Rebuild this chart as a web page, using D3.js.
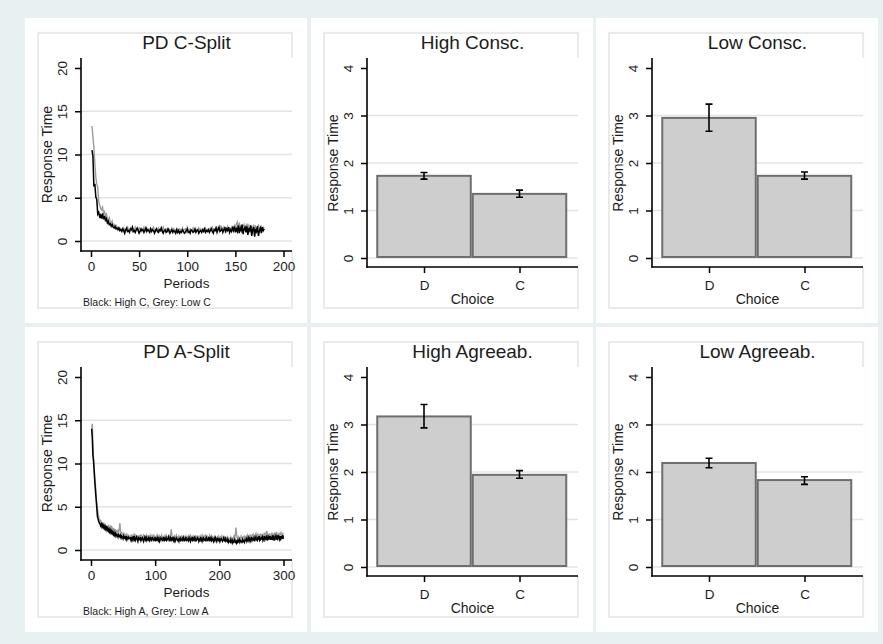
<!DOCTYPE html>
<html>
<head>
<meta charset="utf-8">
<script src="https://cdn.jsdelivr.net/npm/d3@7"></script>
<style>
  html, body { margin: 0; padding: 0; background: #e8f0f2; }
  svg { display: block; font-family: "Liberation Sans", Arial, sans-serif; }
</style>
</head>
<body>
<svg id="chart" width="883" height="644"></svg>
<script>
// ---- Response time by period, PD conscientiousness split (periods 1..180)
const periodsC = d3.range(1, 181);
const highC = [10.5,9.8,6.3,6.6,5.1,4.8,3.1,3.3,2.8,3.0,2.6,3.2,2.5,2.9,2.4,2.6,2.1,2.3,1.9,2.0,1.7,1.9,1.6,1.5,1.7,1.4,1.5,1.3,1.5,1.2,
1.3,1.1,1.4,1.2,0.9,1.3,1.5,1.1,1.2,1.0,1.4,1.3,1.6,1.1,1.2,1.0,1.3,1.5,1.2,0.9,1.1,1.4,1.2,1.3,1.0,1.2,1.5,1.1,1.3,1.2,
1.0,1.4,1.1,1.3,1.2,0.9,1.2,1.4,1.1,1.0,1.3,1.2,1.5,1.1,0.9,1.2,1.3,1.0,1.1,1.4,1.2,0.9,1.1,1.3,1.0,1.2,1.1,0.9,1.3,1.0,
1.2,0.9,1.1,1.0,1.3,1.1,0.9,1.0,1.2,1.4,1.0,1.1,0.9,1.3,1.2,1.0,1.1,1.4,1.0,1.2,1.3,0.9,1.1,1.2,1.0,1.3,1.1,1.4,1.0,1.2,
1.1,1.3,1.0,1.2,1.4,1.1,0.9,1.3,1.2,1.5,1.0,1.3,1.6,1.1,1.2,1.4,1.0,1.3,1.5,1.1,1.4,1.2,1.6,1.0,1.3,1.1,1.5,1.2,1.7,1.0,
1.4,1.1,1.8,0.9,1.5,1.2,1.9,0.8,1.4,1.6,1.0,1.7,0.7,1.5,1.2,1.8,0.6,1.3,1.6,0.5,1.4,1.1,1.7,0.6,1.2,1.5,0.9,1.6,1.2,1.4];
const lowC = [13.3,12.1,10.8,8.9,7.4,6.6,6.2,4.6,4.1,3.8,3.6,3.9,3.2,3.4,2.9,3.1,2.6,2.4,2.7,2.2,2.0,2.3,1.8,1.9,1.6,1.8,1.5,1.6,1.4,1.5,
1.4,1.3,1.2,1.5,1.3,1.1,1.4,1.6,1.3,1.2,1.5,1.3,1.1,1.4,1.2,1.6,1.3,1.4,1.2,1.5,1.3,1.1,1.4,1.3,1.6,1.2,1.3,1.5,1.2,1.4,
1.3,1.5,1.2,1.4,1.6,1.3,1.2,1.4,1.3,1.5,1.1,1.3,1.4,1.2,1.6,1.3,1.2,1.4,1.3,1.1,1.4,1.2,1.3,1.5,1.2,1.4,1.1,1.3,1.2,1.4,
1.2,1.4,1.3,1.1,1.5,1.2,1.3,1.4,1.1,1.6,1.3,1.2,1.4,1.3,1.2,1.5,1.1,1.3,1.4,1.2,1.3,1.5,1.2,1.4,1.1,1.3,1.4,1.2,1.5,1.3,
1.3,1.4,1.2,1.5,1.3,1.6,1.2,1.4,1.3,1.7,1.2,1.5,1.4,1.3,1.8,1.4,1.3,1.6,1.2,1.5,1.4,1.7,1.3,1.5,1.4,1.6,1.3,1.5,1.8,1.4,
1.9,2.2,1.7,2.0,1.6,1.8,1.5,1.7,1.9,1.4,1.6,2.0,1.5,1.8,1.3,1.7,1.6,1.4,1.9,1.5,1.7,1.3,1.6,1.8,1.4,1.5,1.7,1.3,1.6,1.5];

// ---- Response time by period, PD agreeableness split (periods 1..300)
const periodsA = d3.range(1, 301);
const highA = [14.0,13.0,11.0,10.2,9.0,7.8,6.8,5.9,4.9,3.9,3.6,3.3,3.1,3.0,2.8,3.0,2.7,2.9,2.6,2.8,2.5,2.7,2.4,2.6,2.3,2.5,2.2,2.4,2.1,2.3,
2.0,2.2,1.9,2.1,1.8,2.0,1.7,1.9,1.6,1.8,1.7,1.5,1.9,1.6,1.5,1.7,1.4,1.6,1.5,1.3,1.6,1.4,1.5,1.3,1.6,1.2,1.4,1.5,1.3,1.4,
1.4,1.2,1.5,1.1,1.3,1.6,1.2,1.4,1.1,1.3,1.5,1.2,1.0,1.4,1.3,1.2,1.5,1.1,1.3,1.4,1.2,1.0,1.3,1.5,1.2,1.4,1.1,1.3,1.2,1.4,
1.1,1.3,1.5,1.0,1.2,1.4,1.3,1.1,1.2,1.5,1.0,1.3,1.2,1.4,1.1,1.3,1.0,1.2,1.4,1.3,1.1,1.2,1.5,1.0,1.3,1.2,1.4,1.1,1.2,1.3,
1.5,1.1,1.2,1.4,1.0,1.3,1.2,1.5,1.1,1.3,1.0,1.2,1.4,1.3,1.1,1.2,1.0,1.3,1.4,1.1,1.2,1.3,1.0,1.4,1.2,1.1,1.3,1.5,1.0,1.2,
1.3,1.1,1.4,1.2,1.0,1.3,1.2,1.5,1.1,1.2,1.4,1.0,1.3,1.1,1.2,1.4,1.3,1.0,1.2,1.1,1.5,1.2,1.0,1.3,1.4,1.1,1.2,1.3,1.0,1.4,
1.2,1.1,1.3,1.5,1.0,1.2,1.4,1.1,1.3,1.2,1.0,1.3,1.1,1.4,1.2,1.0,1.3,1.2,1.1,1.4,1.0,1.2,1.3,1.1,1.0,1.2,1.4,1.1,1.0,1.3,
1.1,1.0,1.2,0.9,1.1,1.0,0.9,1.2,1.0,0.8,1.1,0.9,1.0,1.2,0.9,1.0,0.8,1.1,0.9,1.0,1.2,0.9,1.1,1.0,0.9,1.2,1.0,1.1,0.9,1.2,
1.1,1.3,1.0,1.2,1.4,1.1,1.3,1.0,1.2,1.5,1.1,1.3,1.2,1.4,1.0,1.3,1.5,1.2,1.1,1.4,1.3,1.6,1.1,1.2,1.4,1.3,1.5,1.1,1.3,1.6,
1.2,1.4,1.3,1.7,1.1,1.3,1.5,1.2,1.6,1.3,1.4,1.2,1.7,1.3,1.5,1.1,1.4,1.6,1.2,1.5,1.3,1.7,1.4,1.2,1.6,1.3,1.5,1.4,1.7,1.3];
const lowA = [13.8,14.6,12.0,10.5,9.6,8.2,7.5,6.0,5.4,4.8,4.2,3.9,3.4,3.2,3.5,3.0,2.9,3.2,2.8,3.0,2.6,2.9,2.7,2.5,2.8,2.4,2.9,2.6,2.3,2.7,
2.5,2.8,2.3,2.6,2.2,2.5,2.1,2.4,2.0,2.3,1.9,2.2,2.0,2.4,3.1,2.2,1.9,2.0,1.8,1.7,1.9,1.6,1.8,1.7,1.5,1.8,1.6,1.7,1.5,1.6,
1.6,1.4,1.8,1.5,1.3,1.7,1.5,1.9,1.4,1.6,1.5,1.3,1.7,1.4,1.6,1.5,1.8,1.4,1.6,1.3,1.5,1.7,1.4,1.6,1.5,1.3,1.7,1.5,1.4,1.6,
1.5,1.7,1.4,1.6,1.3,1.5,1.8,1.4,1.6,1.5,1.3,1.6,1.4,1.7,1.5,1.3,1.6,1.4,1.5,1.7,1.3,1.5,1.4,1.6,1.3,1.5,1.7,1.4,1.5,1.3,
1.6,1.4,1.5,1.8,2.4,1.7,1.4,1.5,1.3,1.6,1.4,1.5,1.7,1.3,1.5,1.4,1.6,1.3,1.5,1.4,1.6,1.5,1.3,1.7,1.4,1.5,1.3,1.6,1.4,1.5,
1.4,1.6,1.3,1.5,1.7,1.4,1.5,1.3,1.6,1.4,1.5,1.3,1.6,1.5,1.4,1.7,1.3,1.5,1.4,1.6,1.3,1.5,1.7,1.4,1.6,1.5,1.3,1.8,1.5,1.4,
1.6,1.4,1.5,1.3,1.7,1.5,1.4,1.6,1.3,1.5,1.4,1.3,1.6,1.5,1.4,1.3,1.5,1.4,1.6,1.3,1.4,1.5,1.3,1.6,1.4,1.3,1.5,1.4,1.3,1.5,
1.4,1.3,1.5,1.2,1.4,1.3,1.2,1.5,1.3,1.2,1.4,1.3,1.6,1.4,1.8,2.6,1.7,1.4,1.3,1.5,1.2,1.4,1.3,1.6,1.4,1.3,1.5,1.4,1.6,1.5,
1.4,1.6,1.5,1.7,1.4,1.6,1.5,1.8,1.4,1.6,1.7,1.5,1.8,1.6,1.4,1.7,1.9,1.5,1.6,1.8,1.5,1.7,1.6,1.9,1.5,1.7,1.6,1.8,1.5,1.7,
1.9,1.6,1.8,2.2,1.7,1.6,1.9,1.5,1.8,1.7,1.6,2.0,1.7,1.8,1.6,1.9,1.7,1.8,2.1,1.6,1.8,1.7,1.9,1.6,1.8,2.0,1.7,1.6,1.9,1.8];

// ---- Mean response time by choice, with confidence bounds
const choices = ["D", "C"];
const highConsc    = [1.73, 1.35];
const highConscLo  = [1.66, 1.28];
const highConscHi  = [1.80, 1.43];
const lowConsc     = [2.95, 1.73];
const lowConscLo   = [2.67, 1.66];
const lowConscHi   = [3.24, 1.81];
const highAgree    = [3.17, 1.94];
const highAgreeLo  = [2.93, 1.87];
const highAgreeHi  = [3.42, 2.03];
const lowAgree     = [2.19, 1.83];
const lowAgreeLo   = [2.09, 1.74];
const lowAgreeHi   = [2.29, 1.90];

// ---- Tick values
const tsYTicks  = [0, 5, 10, 15, 20];
const barYTicks = [0, 1, 2, 3, 4];
const cXTicks   = [0, 50, 100, 150, 200];
const aXTicks   = [0, 100, 200, 300];

// ---- Layout
const svg = d3.select("#chart");
svg.append("rect").attr("width", 883).attr("height", 644).attr("fill", "#e8f0f2");

const colX = [25, 311, 596], rowY = [18, 327];
const PW = 282, PH = 305;
const AX = 56, PR = 267, PT = 40, TT = 50;   // y-axis x, plot right, plot top, top tick
const TXT = "#1c1c1c";

function panelFrame(g, title, axisY) {
  g.append("rect").attr("width", PW).attr("height", PH).attr("fill", "#fff");
  g.append("rect").attr("x", 13).attr("y", 15).attr("width", 254).attr("height", 275)
    .attr("fill", "none").attr("stroke", "#e4e4e4").attr("stroke-width", 1.5);
  g.append("rect").attr("x", AX).attr("y", PT).attr("width", PR - AX + 1.5).attr("height", axisY - PT)
    .attr("fill", "#fff");
  g.append("text").attr("x", (AX + PR) / 2).attr("y", 31).attr("text-anchor", "middle")
    .attr("font-size", 19).attr("fill", TXT).text(title);
}

function yAxis(g, y, ticks, axisY) {
  // gridlines (all but the top tick)
  g.append("g").selectAll("line").data(ticks.slice(0, -1)).join("line")
    .attr("x1", AX).attr("x2", PR).attr("y1", d => y(d)).attr("y2", d => y(d))
    .attr("stroke", "#e4e4e4").attr("stroke-width", 1.4);
  const ax = g.append("g").attr("transform", `translate(${AX},0)`)
    .call(d3.axisLeft(y).tickValues(ticks).tickSize(6).tickSizeOuter(0).tickFormat(d3.format("d")));
  ax.select(".domain").remove();
  ax.selectAll(".tick line").attr("stroke", "#000").attr("stroke-width", 1.5);
  ax.selectAll(".tick text")
    .attr("transform", "rotate(-90)").attr("x", 0).attr("y", -14).attr("dy", 0)
    .attr("text-anchor", "middle").attr("font-size", 13.5).attr("fill", TXT)
    .attr("font-family", "Liberation Sans, Arial, sans-serif");
  g.append("line").attr("x1", AX).attr("x2", AX).attr("y1", PT).attr("y2", axisY + 0.75)
    .attr("stroke", "#000").attr("stroke-width", 1.6);
  const mid = (y(ticks[0]) + y(ticks[ticks.length - 1])) / 2;
  g.append("text").attr("transform", `translate(${AX - 29},${mid}) rotate(-90)`)
    .attr("text-anchor", "middle").attr("font-size", 14).attr("fill", TXT).text("Response Time");
}

function xAxis(g, x, ticks, axisY, fmt, labelGap) {
  const ax = g.append("g").attr("transform", `translate(0,${axisY})`)
    .call(d3.axisBottom(x).tickValues(ticks).tickSize(6).tickSizeOuter(0).tickFormat(fmt));
  ax.select(".domain").remove();
  ax.selectAll(".tick line").attr("stroke", "#000").attr("stroke-width", 1.5);
  ax.selectAll(".tick text").attr("y", labelGap).attr("dy", 0)
    .attr("font-size", 13.5).attr("fill", TXT).attr("font-family", "Liberation Sans, Arial, sans-serif");
  g.append("line").attr("x1", AX - 0.75).attr("x2", PR).attr("y1", axisY).attr("y2", axisY)
    .attr("stroke", "#000").attr("stroke-width", 1.6);
}

function timePanel(col, row, title, periods, high, low, xMax, xTicks, note) {
  const g = svg.append("g").attr("transform", `translate(${colX[col]},${rowY[row]})`);
  const axisY = 233;
  panelFrame(g, title, axisY);
  const x = d3.scaleLinear().domain([0, xMax]).range([AX + 10, AX + 202.5]);
  const y = d3.scaleLinear().domain([0, 20]).range([223, TT]);
  yAxis(g, y, tsYTicks, axisY);
  const line = d3.line().x(d => x(d[0])).y(d => y(d[1]));
  g.append("path").datum(d3.zip(periods, low)).attr("d", line)
    .attr("fill", "none").attr("stroke", "#9c9c9c").attr("stroke-width", 1.4);
  g.append("path").datum(d3.zip(periods, high)).attr("d", line)
    .attr("fill", "none").attr("stroke", "#000").attr("stroke-width", 1.5);
  xAxis(g, x, xTicks, axisY, d3.format("d"), 20);
  g.append("text").attr("x", (AX + PR) / 2).attr("y", 270).attr("text-anchor", "middle")
    .attr("font-size", 13.5).attr("fill", TXT).text("Periods");
  g.append("text").attr("x", AX + 2).attr("y", 288)
    .attr("font-size", 10.5).attr("fill", TXT).text(note);
}

function barPanel(col, row, title, mean, lo, hi) {
  const g = svg.append("g").attr("transform", `translate(${colX[col]},${rowY[row]})`);
  const axisY = 249;
  panelFrame(g, title, axisY);
  const x = d3.scaleLinear().domain([1, 2]).range([AX + 57, AX + 152.5]);
  const y = d3.scaleLinear().domain([0, 4]).range([240, TT]);
  yAxis(g, y, barYTicks, axisY);
  const pos = choices.map((c, i) => i + 1);
  g.append("g").selectAll("rect").data(pos).join("rect")
    .attr("x", d => x(d - 0.5) + 1).attr("width", d => x(d + 0.5) - x(d - 0.5) - 2)
    .attr("y", (d, i) => y(mean[i])).attr("height", (d, i) => y(0) - y(mean[i]) - 1)
    .attr("fill", "#cecece").attr("stroke", "#6e6e6e").attr("stroke-width", 2);
  const eb = g.append("g").attr("stroke", "#000").attr("stroke-width", 1.6).attr("fill", "none");
  pos.forEach((p, i) => {
    const cx = x(p);
    eb.append("path").attr("d",
      `M${cx - 3.5},${y(hi[i])}H${cx + 3.5}M${cx},${y(hi[i])}V${y(lo[i])}M${cx - 3.5},${y(lo[i])}H${cx + 3.5}`);
  });
  xAxis(g, x, pos, axisY, (d) => choices[d - 1], 23);
  g.append("text").attr("x", (AX + PR) / 2).attr("y", 286).attr("text-anchor", "middle")
    .attr("font-size", 14).attr("fill", TXT).text("Choice");
}

timePanel(0, 0, "PD C-Split", periodsC, highC, lowC, 200, cXTicks, "Black: High C, Grey: Low C");
barPanel(1, 0, "High Consc.", highConsc, highConscLo, highConscHi);
barPanel(2, 0, "Low Consc.", lowConsc, lowConscLo, lowConscHi);
timePanel(0, 1, "PD A-Split", periodsA, highA, lowA, 300, aXTicks, "Black: High A, Grey: Low A");
barPanel(1, 1, "High Agreeab.", highAgree, highAgreeLo, highAgreeHi);
barPanel(2, 1, "Low Agreeab.", lowAgree, lowAgreeLo, lowAgreeHi);
</script>
</body>
</html>
